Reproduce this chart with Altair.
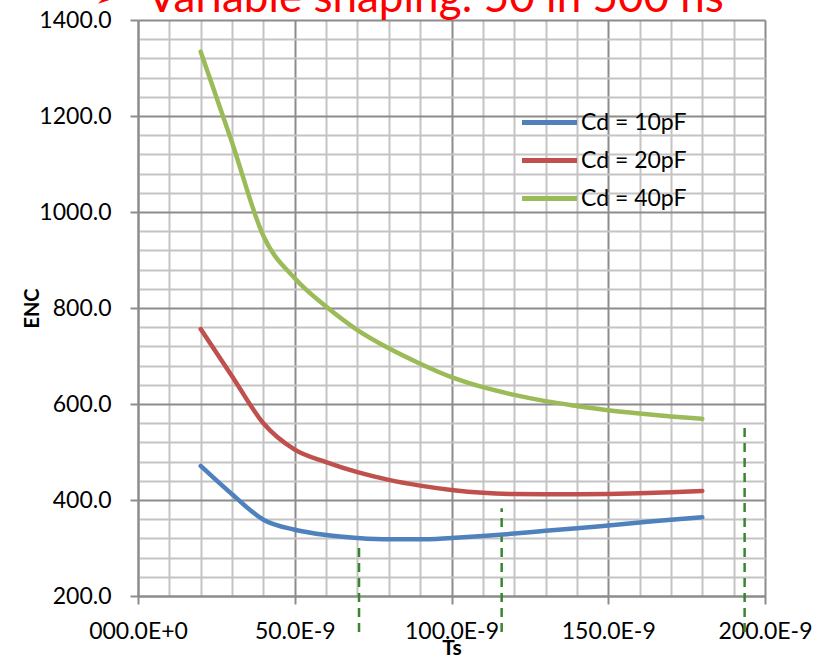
import altair as alt
import pandas as pd

# ---- data ----
ts_ns = [20, 30, 40, 50, 60, 70, 80, 90, 100, 110, 120, 130, 140, 150, 160, 170, 180]
enc_10pf = [471, 412, 359, 338, 327, 321, 318, 318, 321, 325, 330, 336, 341, 347, 353, 359, 364]
enc_20pf = [756, 658, 560, 505, 479, 458, 442, 430, 421, 415, 412.5, 412, 412, 412.5, 414, 416, 419]
enc_40pf = [1334, 1145, 950, 862, 803, 754, 716, 684, 656, 635, 619, 606, 596, 587, 580, 574, 569]
series_names = ["Cd = 10pF", "Cd = 20pF", "Cd = 40pF"]
series_colors = ["#4F81BD", "#C0504D", "#9BBB59"]

marker_ts_ns = [70.5, 116, 193.5]
marker_bottom = [125, 125, 125]
marker_top = [302, 383, 554]

x_major = [0, 50, 100, 150, 200]
x_labels = ["000.0E+0", "50.0E-9", "100.0E-9", "150.0E-9", "200.0E-9"]
x_minor = list(range(0, 201, 10))
y_major = [200, 400, 600, 800, 1000, 1200, 1400]
y_labels = ["200.0", "400.0", "600.0", "800.0", "1000.0", "1200.0", "1400.0"]
y_minor = list(range(200, 1401, 40))

title_text = "Variable shaping: 50 in 500 ns"
bullet_text = "\u27a2"

# ---- tables ----
rows = []
for name, vals in zip(series_names, [enc_10pf, enc_20pf, enc_40pf]):
    for t, v in zip(ts_ns, vals):
        rows.append({"Ts": t, "ENC": v, "series": name})
df = pd.DataFrame(rows)
markers = pd.DataFrame({"Ts": marker_ts_ns, "ENC": marker_bottom, "ENC_top": marker_top})


def label_expr(values, labels):
    expr = "''"
    for v, l in reversed(list(zip(values, labels))):
        expr = f"datum.value === {v} ? '{l}' : ({expr})"
    return expr


def major_test(values):
    return "indexof([" + ",".join(str(v) for v in values) + "], datum.value) >= 0"


MAJOR = "#8C8C8C"
MINOR = "#C4C4C4"
FONT = "Lato"

x_axis = alt.Axis(
    values=x_minor, tickCount=len(x_minor),
    labelExpr=label_expr(x_major, x_labels),
    labelFont=FONT, labelFontSize=23, labelColor="black", labelPadding=16,
    labelOverlap=False, labelFlush=False,
    tickSize=8, tickWidth=2, tickColor=MAJOR,
    tickOpacity={"condition": {"test": major_test(x_major), "value": 1}, "value": 0},
    grid=True, gridWidth=2,
    gridColor={"condition": {"test": major_test(x_major), "value": MAJOR}, "value": MINOR},
    domainColor=MAJOR, domainWidth=2,
    titleFont=FONT, titleFontWeight="bold", titleFontSize=21, titleColor="black",
    titleY=41, titleBaseline="top",
)
y_axis = alt.Axis(
    values=y_minor, tickCount=len(y_minor),
    labelExpr=label_expr(y_major, y_labels),
    labelFont=FONT, labelFontSize=23, labelColor="black", labelPadding=19,
    labelOverlap=False, labelFlush=False,
    tickSize=8, tickWidth=2, tickColor=MAJOR,
    tickOpacity={"condition": {"test": major_test(y_major), "value": 1}, "value": 0},
    grid=True, gridWidth=2,
    gridColor={"condition": {"test": major_test(y_major), "value": MAJOR}, "value": MINOR},
    domainColor=MAJOR, domainWidth=2,
    titleFont=FONT, titleFontWeight="bold", titleFontSize=20, titleColor="black",
    titleX=-100, titleY=288, titleBaseline="alphabetic",
)

xs = alt.Scale(domain=[0, 200], nice=False, zero=False)
ys = alt.Scale(domain=[200, 1400], nice=False, zero=False)

lines = alt.Chart(df).mark_line(
    strokeWidth=4.5, interpolate="monotone", strokeCap="round", strokeJoin="round"
).encode(
    x=alt.X("Ts:Q", scale=xs, axis=x_axis, title="Ts"),
    y=alt.Y("ENC:Q", scale=ys, axis=y_axis, title="ENC"),
    color=alt.Color(
        "series:N",
        scale=alt.Scale(domain=series_names, range=series_colors),
        legend=alt.Legend(
            orient="none", legendX=400, legendY=91, title=None, padding=0,
            symbolType="M-5,0L5,0", symbolSize=121, symbolStrokeWidth=5,
            labelFont=FONT, labelFontSize=23, labelColor="black",
            labelOffset=20, rowPadding=14,
        ),
    ),
    order=alt.Order("Ts:Q"),
)

rules = alt.Chart(markers).mark_rule(
    color="#3A8530", strokeWidth=2.5, strokeDash=[9, 6]
).encode(
    x=alt.X("Ts:Q", scale=xs, title="Ts"),
    y=alt.Y("ENC:Q", scale=ys, title="ENC"),
    y2="ENC_top:Q",
)

title = alt.Chart(pd.DataFrame({"label": [title_text]})).mark_text(
    align="left", baseline="alphabetic", font=FONT, fontSize=44, color="#FF0000"
).encode(text="label:N", x=alt.value(9), y=alt.value(-8))

bullet = alt.Chart(pd.DataFrame({"label": [bullet_text]})).mark_text(
    align="left", baseline="alphabetic", font="DejaVu Sans", fontSize=36, color="#FF0000"
).encode(text="label:N", x=alt.value(-44), y=alt.value(-13))

chart = alt.layer(rules, lines, title, bullet).properties(
    width=627, height=576,
    autosize=alt.AutoSizeParams(type="none"),
    padding={"left": 138, "top": 20, "right": 52, "bottom": 62},
    background="white",
).configure_view(stroke=None)

chart.save("out.html", embed_options={"renderer": "svg", "actions": False})
